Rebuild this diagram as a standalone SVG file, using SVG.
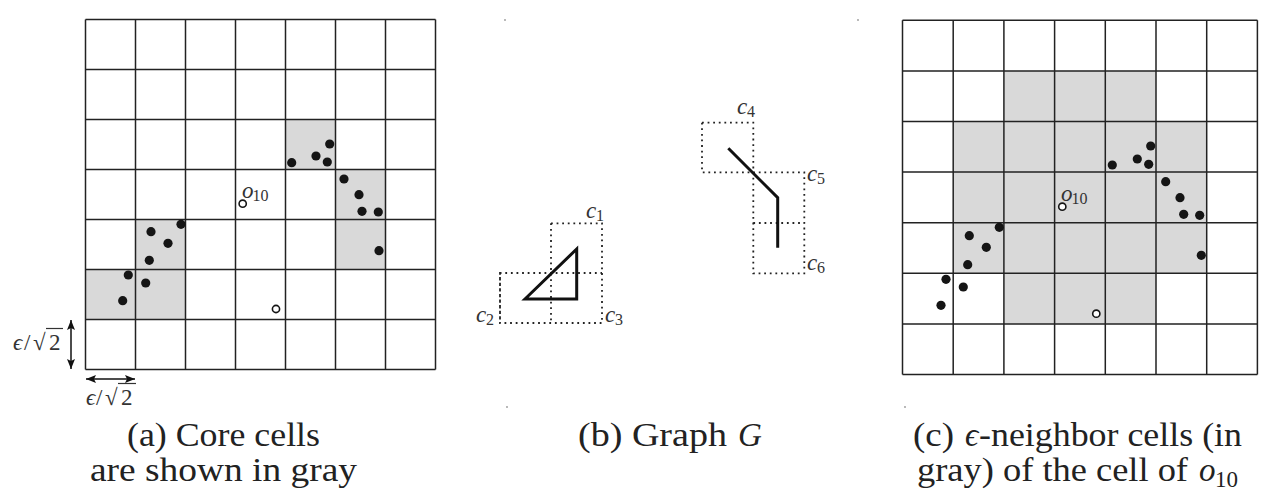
<svg xmlns="http://www.w3.org/2000/svg" width="1269" height="498" viewBox="0 0 1269 498">
<defs>
<style>
.bg{fill:#ffffff}
.core{fill:#d9d9d9;stroke:none}
.grid{fill:none;stroke:#222;stroke-width:1.5}
.pt{fill:#151515}
.op{fill:#fff;stroke:#151515;stroke-width:1.6}
.cap{font-family:"Liberation Serif","DejaVu Serif",serif;font-size:33px;fill:#222}
.it{font-style:italic}
.lbl{font-family:"Liberation Serif","DejaVu Serif",serif;font-size:23px;fill:#333;font-style:italic}
.sub{font-family:"Liberation Serif","DejaVu Serif",serif;font-size:16px;fill:#333}
.dotted{fill:none;stroke:#222;stroke-width:1.8;stroke-dasharray:1.8 3.8}
.edge{fill:none;stroke:#111;stroke-width:3;stroke-linejoin:miter}
.arr{stroke:#111;stroke-width:1.5;fill:none}
.ov{stroke:#333;stroke-width:1.2}
.eps{font-family:"Liberation Serif","DejaVu Serif",serif;font-size:23px;fill:#333}
.speck{fill:#999}
</style>
<marker id="ah" viewBox="0 0 10 8" refX="10" refY="4" markerWidth="10" markerHeight="8" markerUnits="userSpaceOnUse" orient="auto-start-reverse">
<path d="M0,0 L10,4 L0,8 L2,4 z" fill="#111"/>
</marker>
</defs>
<rect class="bg" x="0" y="0" width="1269" height="498"/>

<g id="panel-a">
<rect class="core" x="285.5" y="119.5" width="50" height="50"/>
<rect class="core" x="335.5" y="169.5" width="50" height="100"/>
<rect class="core" x="135.5" y="219.5" width="50" height="50"/>
<rect class="core" x="85.5" y="269.5" width="100" height="50"/>
<path class="grid" d="M85.5,19.5V369.5M135.5,19.5V369.5M185.5,19.5V369.5M235.5,19.5V369.5M285.5,19.5V369.5M335.5,19.5V369.5M385.5,19.5V369.5M435.5,19.5V369.5M85.5,19.5H435.5M85.5,69.5H435.5M85.5,119.5H435.5M85.5,169.5H435.5M85.5,219.5H435.5M85.5,269.5H435.5M85.5,319.5H435.5M85.5,369.5H435.5"/>
<g>
<circle class="pt" cx="291.7" cy="162.7" r="4.6"/>
<circle class="pt" cx="316" cy="156" r="4.6"/>
<circle class="pt" cx="329.7" cy="144" r="4.6"/>
<circle class="pt" cx="327.3" cy="162" r="4.6"/>
<circle class="pt" cx="344" cy="179" r="4.6"/>
<circle class="pt" cx="359" cy="194.7" r="4.6"/>
<circle class="pt" cx="362" cy="211.3" r="4.6"/>
<circle class="pt" cx="378.3" cy="212" r="4.6"/>
<circle class="pt" cx="379" cy="250.7" r="4.6"/>
<circle class="pt" cx="181" cy="224.3" r="4.6"/>
<circle class="pt" cx="151" cy="231.7" r="4.6"/>
<circle class="pt" cx="168" cy="243.3" r="4.6"/>
<circle class="pt" cx="149.3" cy="260.3" r="4.6"/>
<circle class="pt" cx="128.3" cy="275" r="4.6"/>
<circle class="pt" cx="145.7" cy="283" r="4.6"/>
<circle class="pt" cx="122.7" cy="300.7" r="4.6"/>
<circle class="op" cx="242.7" cy="203.7" r="3.6"/>
<circle class="op" cx="276" cy="309" r="3.6"/>
</g>
<text class="lbl" x="242" y="198">o</text><text class="sub" x="252.5" y="201">10</text>
<text class="eps" x="13" y="350"><tspan class="it">ϵ</tspan><tspan x="24">/</tspan><tspan x="33">√</tspan><tspan x="49">2</tspan></text>
<line class="ov" x1="46" y1="328.5" x2="63" y2="328.5"/>
<text class="eps" x="86" y="405"><tspan class="it">ϵ</tspan><tspan x="96">/</tspan><tspan x="105">√</tspan><tspan x="121">2</tspan></text>
<line class="ov" x1="118" y1="383.5" x2="136" y2="383.5"/>
<text class="cap" x="127" y="446" textLength="193" lengthAdjust="spacingAndGlyphs">(a) Core cells</text>
<text class="cap" x="90" y="481" textLength="267" lengthAdjust="spacingAndGlyphs">are shown in gray</text>
</g>

<g id="panel-b">
<path class="dotted" d="M551,223.3H602V323H500V273H602M551,223.3V323M500,273V323"/>
<path class="dotted" d="M702,122.7H753.3V273.3H804.3V172.3H702V122.7M753.3,223H804.3"/>
<text class="lbl" x="586" y="218">c</text><text class="sub" x="596" y="221">1</text>
<text class="lbl" x="476" y="322">c</text><text class="sub" x="486" y="325">2</text>
<text class="lbl" x="605" y="322">c</text><text class="sub" x="615" y="325">3</text>
<text class="lbl" x="737" y="114">c</text><text class="sub" x="747" y="117">4</text>
<text class="lbl" x="807" y="181">c</text><text class="sub" x="817" y="184">5</text>
<text class="lbl" x="807" y="270">c</text><text class="sub" x="817" y="273">6</text>
<text class="cap" x="578" y="446" textLength="149" lengthAdjust="spacingAndGlyphs">(b) Graph</text>
<text class="cap it" x="738" y="446">G</text>
</g>

<g id="panel-c">
<rect class="core" x="1003.9" y="70.9" width="152.1" height="50.6"/>
<rect class="core" x="953.2" y="121.5" width="253.5" height="151.8"/>
<rect class="core" x="1003.9" y="273.3" width="152.1" height="50.6"/>
<path class="grid" d="M902.5,20.3V374.5M953.2,20.3V374.5M1003.9,20.3V374.5M1054.6,20.3V374.5M1105.3,20.3V374.5M1156,20.3V374.5M1206.7,20.3V374.5M1257.4,20.3V374.5M902.5,20.3H1257.4M902.5,70.9H1257.4M902.5,121.5H1257.4M902.5,172.1H1257.4M902.5,222.7H1257.4M902.5,273.3H1257.4M902.5,323.9H1257.4M902.5,374.5H1257.4"/>
<g>
<circle class="pt" cx="1112.3" cy="165" r="4.6"/>
<circle class="pt" cx="1137.3" cy="159" r="4.6"/>
<circle class="pt" cx="1150.7" cy="146" r="4.6"/>
<circle class="pt" cx="1148.7" cy="164.3" r="4.6"/>
<circle class="pt" cx="1165.7" cy="181.7" r="4.6"/>
<circle class="pt" cx="1180" cy="197.7" r="4.6"/>
<circle class="pt" cx="1183.7" cy="214.3" r="4.6"/>
<circle class="pt" cx="1199.7" cy="215.3" r="4.6"/>
<circle class="pt" cx="1201.3" cy="255.3" r="4.6"/>
<circle class="pt" cx="999.3" cy="227.3" r="4.6"/>
<circle class="pt" cx="969.3" cy="235.7" r="4.6"/>
<circle class="pt" cx="986.3" cy="247.3" r="4.6"/>
<circle class="pt" cx="967.7" cy="264.7" r="4.6"/>
<circle class="pt" cx="946" cy="279.3" r="4.6"/>
<circle class="pt" cx="963.3" cy="287" r="4.6"/>
<circle class="pt" cx="941" cy="305.3" r="4.6"/>
<circle class="op" cx="1062.3" cy="206.7" r="3.6"/>
<circle class="op" cx="1096.3" cy="313.7" r="3.6"/>
</g>
<text class="lbl" x="1061" y="201">o</text><text class="sub" x="1071.5" y="204">10</text>
<text class="cap" x="913" y="446" textLength="41" lengthAdjust="spacingAndGlyphs">(c)</text>
<text class="cap it" x="965" y="446">ϵ</text>
<text class="cap" x="979" y="446" textLength="263" lengthAdjust="spacingAndGlyphs">-neighbor cells (in</text>
<text class="cap" x="917" y="481" textLength="271" lengthAdjust="spacingAndGlyphs">gray) of the cell of</text>
<text class="cap it" x="1199" y="481">o</text>
<text class="cap" x="1215" y="487" style="font-size:23px">10</text>
</g>

<g id="connectors">
<line class="arr" x1="71" y1="320" x2="71" y2="369" marker-start="url(#ah)" marker-end="url(#ah)"/>
<line class="arr" x1="86" y1="379" x2="135" y2="379" marker-start="url(#ah)" marker-end="url(#ah)"/>
<path class="edge" d="M525,299L576.7,249V299Z"/>
<path class="edge" d="M728.3,148.3L777.7,197.7V247.7"/>
</g>

<g id="specks">
<circle class="speck" cx="505" cy="20" r="0.9"/>
<circle class="speck" cx="858" cy="20" r="0.9"/>
<circle class="speck" cx="507" cy="407" r="0.9"/>
<circle class="speck" cx="905" cy="407" r="0.9"/>
</g>
</svg>
